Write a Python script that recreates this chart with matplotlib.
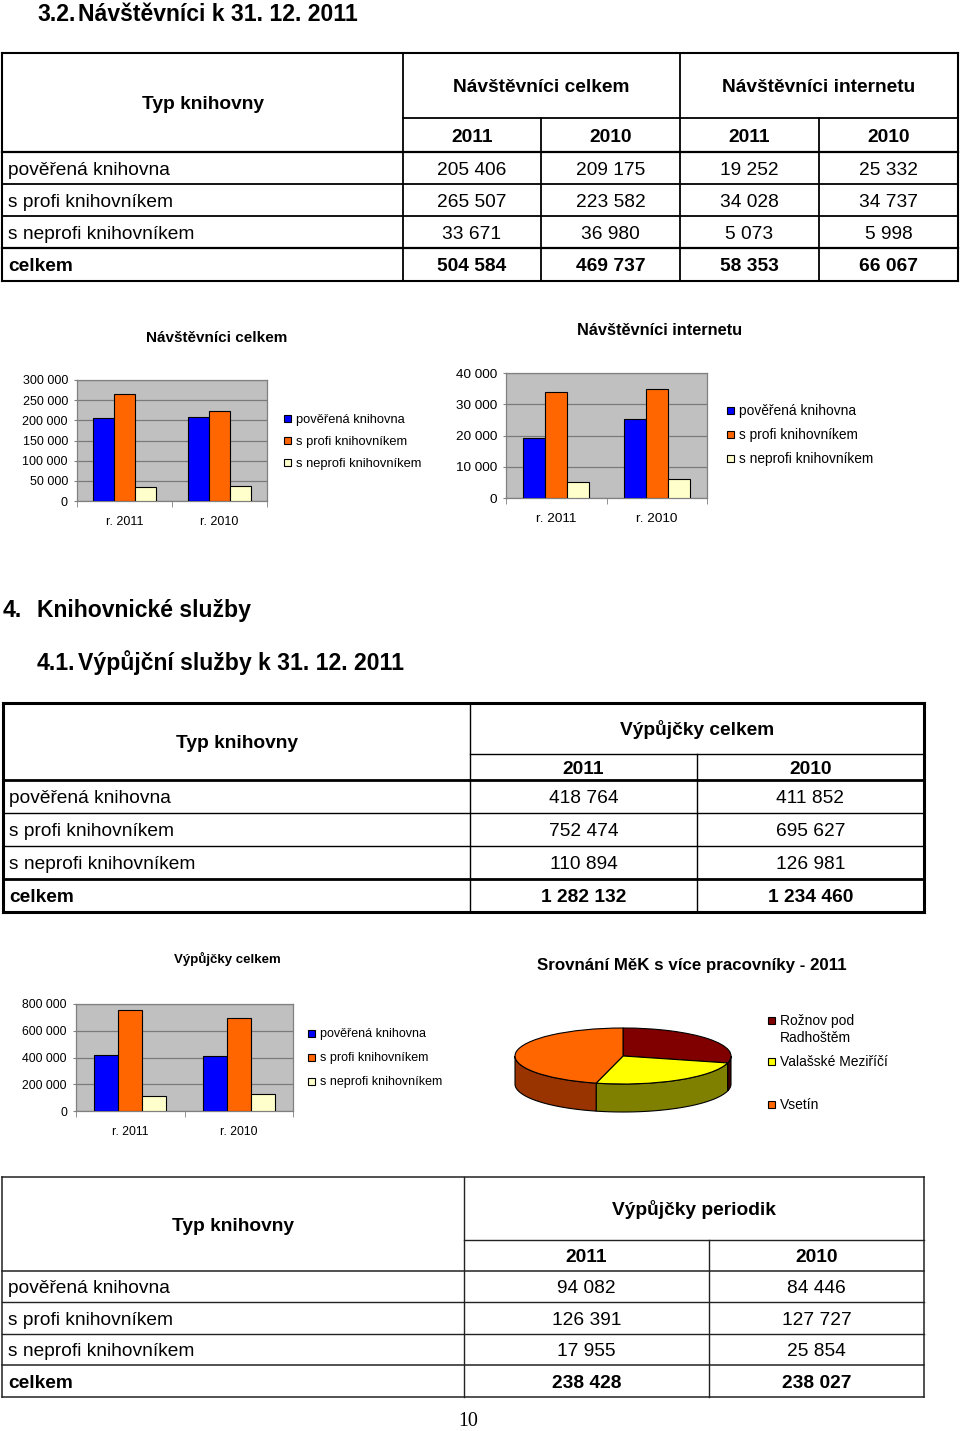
import numpy as np
import matplotlib.pyplot as plt
from matplotlib.patches import Rectangle, Polygon, Wedge
from matplotlib.ticker import FuncFormatter, MultipleLocator

plt.rcParams['font.family'] = ['Liberation Sans', 'DejaVu Sans']

W, H = 960, 1431

# --- data ---
typy = ['pověřená knihovna', 's profi knihovníkem', 's neprofi knihovníkem']
roky = ['2011', '2010']
kategorie = ['r. 2011', 'r. 2010']

navst_2011 = [205406, 265507, 33671]
navst_2010 = [209175, 223582, 36980]
inet_2011 = [19252, 34028, 5073]
inet_2010 = [25332, 34737, 5998]
vyp_2011 = [418764, 752474, 110894]
vyp_2010 = [411852, 695627, 126981]
period_2011 = [94082, 126391, 17955]
period_2010 = [84446, 127727, 25854]

mesta = ['Rožnov pod\nRadhoštěm', 'Valašské Meziříčí', 'Vsetín']
podil_mesta = [29, 25, 46]  # odhad z 3D kolace

barvy = ['#0000FF', '#FF6600', '#FFFFCC']
barvy_pie = ['#800000', '#FFFF00', '#FF6600']
barvy_bok = ['#400000', '#808000', '#993300']


def fmt(v):
    return f"{int(v):,}".replace(',', ' ')


fig = plt.figure(figsize=(W / 100, H / 100), dpi=100)
page = fig.add_axes([0, 0, 1, 1])
page.set_xlim(0, W)
page.set_ylim(H, 0)
page.axis('off')


def txt(x, y, s, size, bold=False, ha='left', **kw):
    page.text(x, y + 0.36 * size * 100 / 72, s, fontsize=size,
              fontweight='bold' if bold else 'normal', ha=ha, va='baseline', **kw)


def px_ax(x0, y0, x1, y1):
    return fig.add_axes([x0 / W, 1 - y1 / H, (x1 - x0) / W, (y1 - y0) / H])


# --- tables ---
def tabulka(xs, ys, skupiny, sloupce, lw_out, lw_in, lw_sum, color='black'):
    left, right = xs[0], xs[-1]
    top, split, hbot = ys[0], ys[1], ys[2]
    bottom = ys[-1]
    # horizontal lines
    page.plot([left, right], [top, top], color=color, lw=lw_out)
    page.plot([left, right], [bottom, bottom], color=color, lw=lw_out)
    page.plot([left, right], [hbot, hbot], color=color, lw=lw_sum)
    page.plot([xs[1], right], [split, split], color=color, lw=lw_in)
    for i, yl in enumerate(ys[3:-1]):
        lw = lw_sum if i == len(ys[3:-1]) - 1 else lw_in
        page.plot([left, right], [yl, yl], color=color, lw=lw)
    # vertical lines
    page.plot([left, left], [top, bottom], color=color, lw=lw_out)
    page.plot([right, right], [top, bottom], color=color, lw=lw_out)
    page.plot([xs[1], xs[1]], [top, bottom], color=color, lw=lw_in)
    for g in range(len(skupiny)):
        xa, xb, xc = xs[1 + 2 * g], xs[2 + 2 * g], xs[3 + 2 * g]
        if xc != right:
            page.plot([xc, xc], [top, bottom], color=color, lw=lw_in)
        page.plot([xb, xb], [split, bottom], color=color, lw=lw_in)
        txt((xa + xc) / 2, (top + split) / 2, skupiny[g], 13.8, bold=True, ha='center')
    txt((left + xs[1]) / 2, (top + hbot) / 2, 'Typ knihovny', 13.8, bold=True, ha='center')
    rows = typy + ['celkem']
    for r, name in enumerate(rows):
        yc = (ys[2 + r] + ys[3 + r]) / 2
        txt(left + 6, yc, name, 13.8, bold=(name == 'celkem'))
    for c, col in enumerate(sloupce):
        xc = (xs[1 + c] + xs[2 + c]) / 2
        txt(xc, (split + hbot) / 2, roky[c % 2], 13.8, bold=True, ha='center')
        vals = list(col) + [sum(col)]
        for r, v in enumerate(vals):
            yc = (ys[2 + r] + ys[3 + r]) / 2
            txt(xc, yc, fmt(v), 13.8, bold=(r == 3), ha='center')


# headings
txt(37, 13, '3.2.', 16.6, bold=True)
txt(78, 13, 'Návštěvníci k 31. 12. 2011', 16.6, bold=True)
txt(3, 609, '4.', 16.6, bold=True)
txt(37, 609, 'Knihovnické služby', 16.6, bold=True)
txt(37, 662, '4.1.', 16.6, bold=True)
txt(78, 662, 'Výpůjční služby k 31. 12. 2011', 16.6, bold=True)

tabulka([2, 403, 541, 680, 819, 958], [53, 118, 152, 184, 216, 248, 281],
        ['Návštěvníci celkem', 'Návštěvníci internetu'],
        [navst_2011, navst_2010, inet_2011, inet_2010], 1.5, 1.3, 1.6)
tabulka([3, 470, 697, 924], [703, 754, 780, 813, 846, 879, 912],
        ['Výpůjčky celkem'], [vyp_2011, vyp_2010], 2.2, 1.0, 2.0)
tabulka([2, 464, 709, 924], [1177, 1240, 1271, 1302, 1334, 1365, 1397],
        ['Výpůjčky periodik'], [period_2011, period_2010], 1.1, 1.0, 1.1, color='#222222')


# --- bar charts ---
def sloupce(rect, s2011, s2010, ymax, step, fs):
    ax = px_ax(*rect)
    data = np.array([s2011, s2010])
    x = np.arange(len(kategorie))
    w = 0.22
    for i in range(len(typy)):
        ax.bar(x + (i - 1) * w, data[:, i], w, color=barvy[i], edgecolor='black',
               linewidth=0.8, zorder=3)
    ax.set_xlim(-0.5, 1.5)
    ax.set_ylim(0, ymax)
    ax.set_facecolor('#C0C0C0')
    ax.yaxis.set_major_locator(MultipleLocator(step))
    ax.yaxis.set_major_formatter(FuncFormatter(lambda v, p: fmt(v)))
    ax.grid(axis='y', color='#7a7a7a', lw=0.9, zorder=1)
    for sp in ax.spines.values():
        sp.set_color('#808080')
        sp.set_linewidth(0.9)
    ax.set_xticks(x)
    ax.set_xticklabels(kategorie)
    ax.set_xticks([-0.5, 0.5, 1.5], minor=True)
    ax.tick_params(axis='x', which='major', length=0, pad=11, labelsize=fs)
    ax.tick_params(axis='x', which='minor', length=4, color='#808080')
    ax.tick_params(axis='y', length=2.5, pad=4, color='#808080', labelsize=fs)
    return ax


def legenda(x, y, dy, labels, colors, fs):
    for i, (lab, c) in enumerate(zip(labels, colors)):
        yy = y + i * dy if isinstance(dy, (int, float)) else dy[i]
        page.add_patch(Rectangle((x - 3.5, yy - 3.5), 7, 7, facecolor=c,
                                 edgecolor='black', lw=0.8))
        for k, line in enumerate(lab.split('\n')):
            txt(x + 9, yy + k * 17, line, fs)


sloupce((77, 380, 267, 501), navst_2011, navst_2010, 300000, 50000, 9)
txt(217, 337, 'Návštěvníci celkem', 11, bold=True, ha='center')
legenda(287, 418, 22, typy, barvy, 9.3)

sloupce((506, 373, 707, 498), inet_2011, inet_2010, 40000, 10000, 9.7)
txt(660, 329, 'Návštěvníci internetu', 11.8, bold=True, ha='center')
legenda(730, 410, 24, typy, barvy, 9.9)

sloupce((76, 1004, 293, 1111), vyp_2011, vyp_2010, 800000, 200000, 8.8)
txt(227, 958, 'Výpůjčky celkem', 9.5, bold=True, ha='center')
legenda(311, 1033, 24, typy, barvy, 9)

# --- 3D pie ---
cx, cy, a, b, depth_px = 623, 1056, 108, 28, 28
rect = (505, 1018, 745, 1122)
pax = px_ax(*rect)
pax.set_xlim((rect[0] - cx) / a, (rect[2] - cx) / a)
pax.set_ylim((cy - rect[3]) / b, (cy - rect[1]) / b)
pax.axis('off')
depth = depth_px / b

hodnoty = np.array(podil_mesta, dtype=float)
uhly = hodnoty / hodnoty.sum() * 360
starts = 90 - np.concatenate([[0], np.cumsum(uhly)[:-1]])
ends = starts - uhly
for i in range(len(hodnoty)):
    lo, hi = ends[i], starts[i]
    for k in (-1, 0, 1):
        f0, f1 = max(lo, -180 + 360 * k), min(hi, 0 + 360 * k)
        if f1 > f0:
            t = np.radians(np.linspace(f0, f1, 80))
            top = np.column_stack([np.cos(t), np.sin(t)])
            bot = np.column_stack([np.cos(t), np.sin(t) - depth])
            pax.add_patch(Polygon(np.vstack([top, bot[::-1]]), closed=True,
                                  facecolor=barvy_bok[i], edgecolor='black', lw=0.8, zorder=1))
    pax.add_patch(Wedge((0, 0), 1, lo, hi, facecolor=barvy_pie[i], edgecolor='black',
                        lw=0.8, zorder=2))

txt(692, 964, 'Srovnání MěK s více pracovníky - 2011', 12.2, bold=True, ha='center')
legenda(771, 0, [1020, 1061, 1104], mesta, barvy_pie, 10)

# page number
page.text(468, 1421, '10', fontsize=14.4, ha='center', va='center',
          family=['Liberation Serif', 'DejaVu Serif'])

fig.savefig('out.png', dpi=100)
